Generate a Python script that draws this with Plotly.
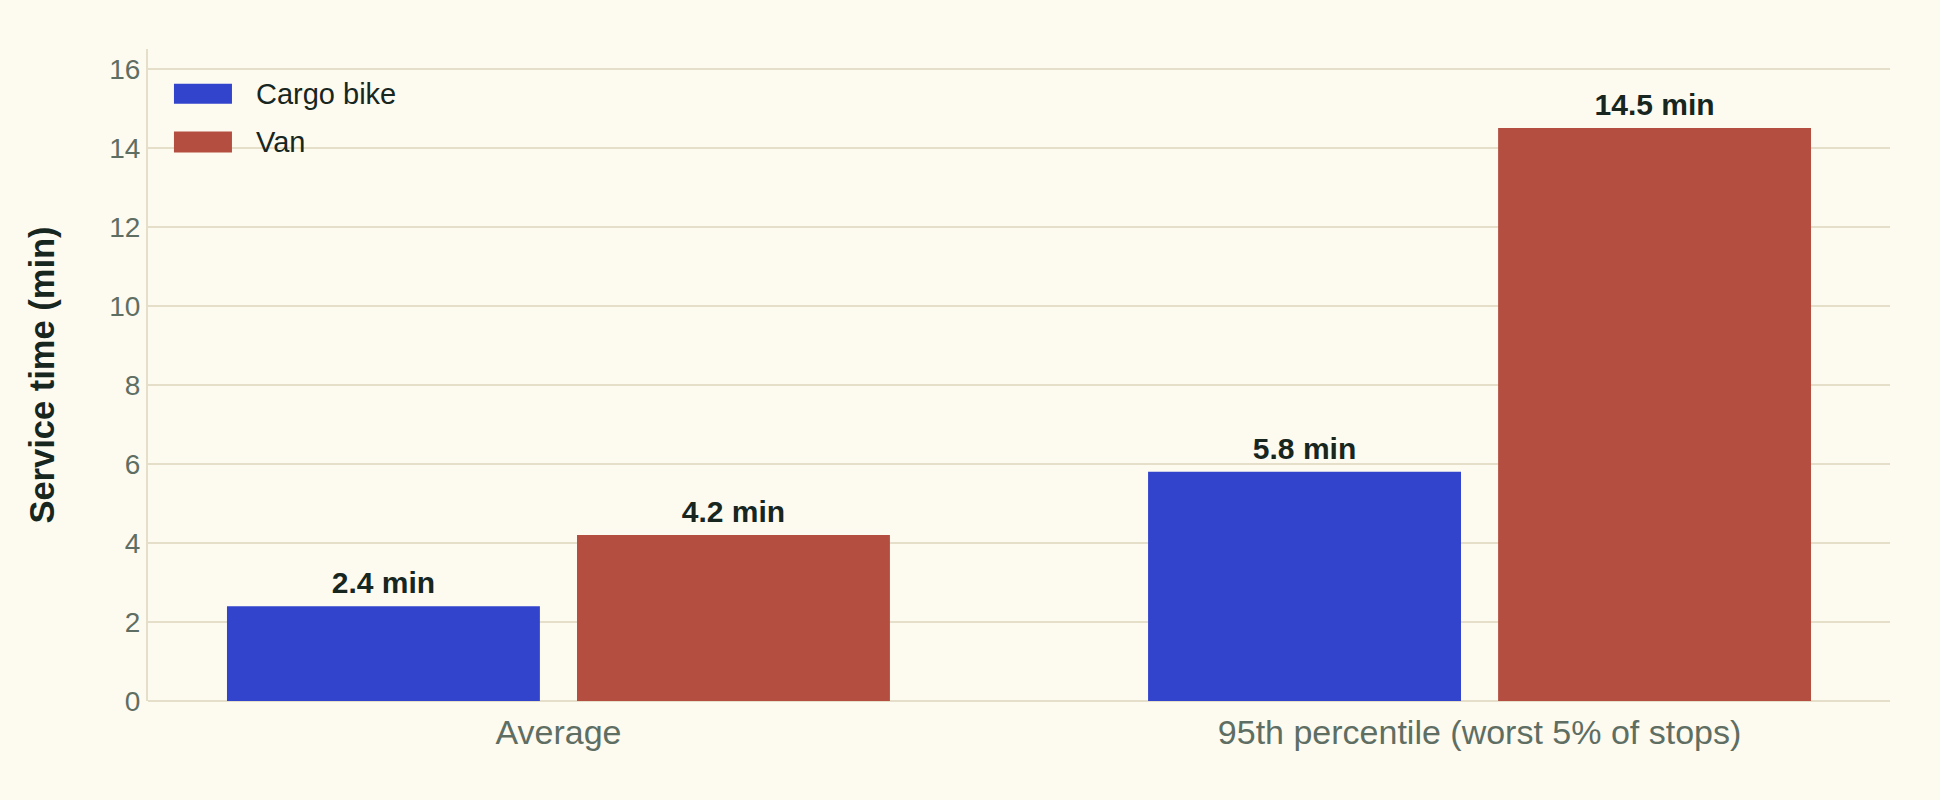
import plotly.graph_objects as go

categories = ["Average", "95th percentile (worst 5% of stops)"]
series_names = ["Cargo bike", "Van"]
cargo_bike = [2.4, 5.8]
van = [4.2, 14.5]
series_values = [cargo_bike, van]
series_colors = ["#3243cc", "#b34e40"]
y_ticks = [0, 2, 4, 6, 8, 10, 12, 14, 16]

BG = "#fdfbf0"
GRID = "#e5dfca"
TICK = "#5f6e63"
DARK = "#17261e"
FONT = "Liberation Sans, Arial, Helvetica, sans-serif"

fig = go.Figure()
for name, vals, col in zip(series_names, series_values, series_colors):
    fig.add_trace(go.Bar(
        x=categories, y=vals, name=name, offsetgroup=name,
        marker=dict(color=col, line=dict(width=0)),
        showlegend=False,
    ))
for name, vals in zip(series_names, series_values):
    fig.add_trace(go.Scatter(
        x=categories, y=vals, name=name + " label", offsetgroup=name,
        mode="markers+text", text=[f"{v:.1f} min" for v in vals],
        marker=dict(size=7, color="rgba(0,0,0,0)", line=dict(width=0)),
        textposition="top center",
        textfont=dict(family=FONT, size=30, color=DARK, weight="bold"),
        cliponaxis=False, showlegend=False, hoverinfo="skip",
    ))

# manual legend (large swatches)
legend_rows = [(0.9468, 0.9161), (0.8736, 0.8413)]
for (top, bot), name, col in zip(legend_rows, series_names, series_colors):
    fig.add_shape(type="rect", xref="paper", yref="paper",
                  x0=0.0149, x1=0.0482, y0=bot, y1=top,
                  fillcolor=col, line=dict(width=0))
    fig.add_annotation(xref="paper", yref="paper", x=0.0607, y=(top + bot) / 2,
                       text=name, showarrow=False, xanchor="left", yanchor="middle",
                       font=dict(family=FONT, size=29, color=DARK))

fig.update_layout(
    width=1940, height=800,
    paper_bgcolor=BG, plot_bgcolor=BG,
    margin=dict(l=148, r=50, t=49, b=99),
    barmode="group", bargap=0.24, bargroupgap=0.106,
    scattermode="group", scattergap=0.24,
    font=dict(family=FONT, color=TICK),
    xaxis=dict(
        range=[-0.4456, 1.4456],
        showgrid=False, showline=False, zeroline=False,
        ticks="", tickfont=dict(size=34, color=TICK),
        ticklabelstandoff=8,
    ),
    yaxis=dict(
        range=[0, 16.5], tickvals=y_ticks,
        showgrid=True, gridcolor=GRID, gridwidth=2,
        showline=True, linecolor=GRID, linewidth=2,
        zeroline=True, zerolinecolor=GRID, zerolinewidth=2,
        ticks="", tickfont=dict(size=28, color=TICK),
        title=dict(text="Service time (min)", standoff=44,
                   font=dict(family=FONT, size=34.5, color=DARK, weight="bold")),
    ),
)

fig.write_html("out.html")
